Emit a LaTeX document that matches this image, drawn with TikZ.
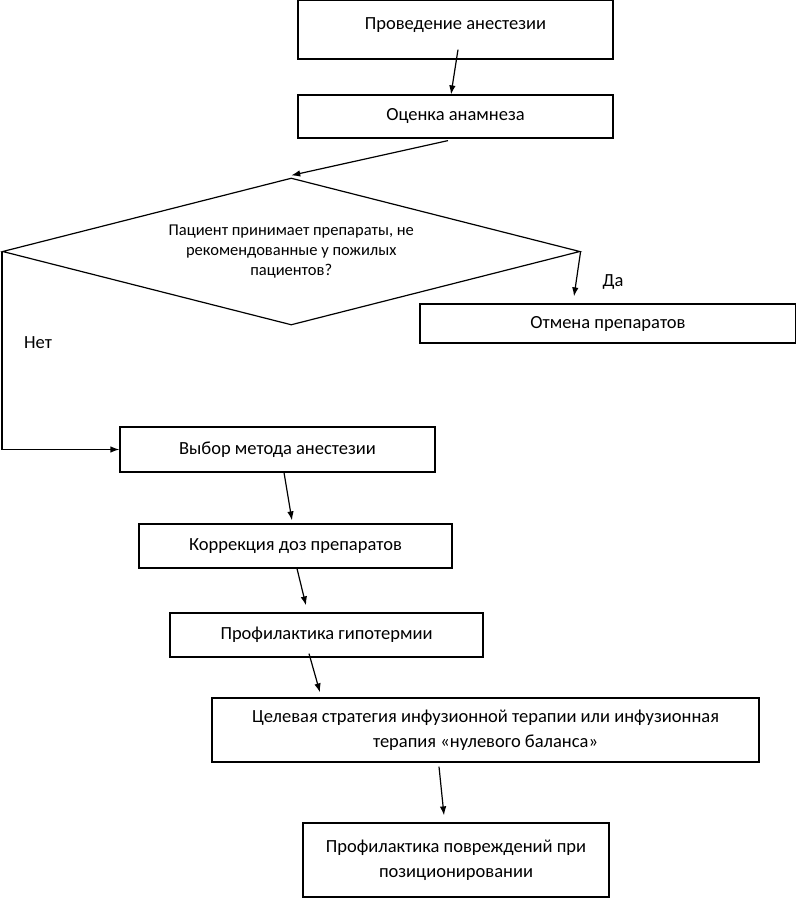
\documentclass[tikz,border=0pt]{standalone}
\usepackage{fontspec}
\setmainfont{Carlito}
\usetikzlibrary{shapes.geometric,arrows.meta,positioning}

\begin{document}
\begin{tikzpicture}
[x=1pt, y=-1pt, line width=1.2pt, >={Latex[length=9pt,width=6.5pt]},
box/.style={draw, rectangle, inner sep=0pt, align=center, font=\fontsize{18.5}{25}\selectfont},
ask/.style={draw, diamond, aspect=3.93, inner sep=0pt, align=center, font=\fontsize{16.5}{20}\selectfont},
note/.style={font=\fontsize{18.5}{25}\selectfont}]

\useasboundingbox (0,0) rectangle (796,898);

\node[box, minimum width=315pt, minimum height=59pt, text depth=12pt] (b1) at (455.5,29.5) {Проведение анестезии};
\node[box, minimum width=315pt, minimum height=43pt] (b2) at (455.5,116.5) {Оценка анамнеза};

\node[ask, minimum width=577.5pt, minimum height=147pt] (q) at (291.25,251.5)
{Пациент принимает препараты, не\\ рекомендованные у пожилых\\ пациентов?};

\node[box, minimum width=376pt, minimum height=39pt] (r) at (608,323.5) {Отмена препаратов};
\node[note] (yes) at (613,282) {Да};
\node[note] (no) at (38,343) {Нет};

\node[box, minimum width=315pt, minimum height=45pt] (c) at (277.5,449.5) {Выбор метода анестезии};
\node[box, minimum width=313pt, minimum height=44pt] (d) at (295.5,546) {Коррекция доз препаратов};
\node[box, minimum width=313pt, minimum height=44pt] (e) at (326.5,635) {Профилактика гипотермии};
\node[box, minimum width=547pt, minimum height=64pt] (f) at (485.5,730)
{Целевая стратегия инфузионной терапии или инфузионная\\ терапия «нулевого баланса»};
\node[box, minimum width=306pt, minimum height=74pt] (g) at (456,860)
{Профилактика повреждений при\\ позиционировании};

%arrows
\draw[->] ([xshift=2.5pt,yshift=10pt]b1.south) -- ([xshift=-4.5pt]b2.north);
\draw[->] ([xshift=-7.5pt,yshift=-2pt]b2.south) -- ([yshift=2pt]q.north);
\draw[->] (q.east) -- ([xshift=-34pt,yshift=7pt]r.north);
\draw[->] (q.west) |- (c.west);
\draw[->] ([xshift=6.5pt]c.south) -- ([xshift=-3.5pt,yshift=3pt]d.north);
\draw[->] ([xshift=1.5pt]d.south) -- ([xshift=-20.5pt,yshift=7pt]e.north);
\draw[->] ([xshift=-17.5pt,yshift=4pt]e.south) -- ([xshift=-165.5pt,yshift=5pt]f.north);
\draw[->] ([xshift=-46.5pt,yshift=-4pt]f.south) -- ([xshift=-12pt,yshift=7pt]g.north);
\end{tikzpicture}
\end{document}
